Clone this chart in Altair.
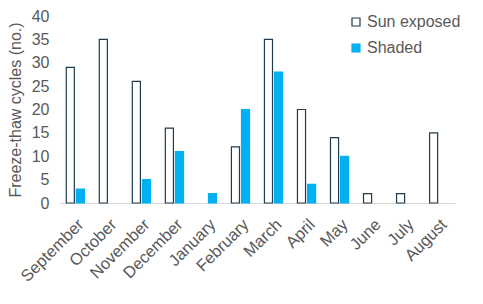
import altair as alt
import pandas as pd

months = ["September", "October", "November", "December", "January", "February",
          "March", "April", "May", "June", "July", "August"]
sun_exposed = [29, 35, 26, 16, 0, 12, 35, 20, 14, 2, 2, 15]
shaded = [3, 0, 5, 11, 2, 20, 28, 4, 10, 0, 0, 0]
series = ["Sun exposed", "Shaded"]

rows = []
for m, a, b in zip(months, sun_exposed, shaded):
    rows.append({"Month": m, "Series": series[0], "Value": a})
    rows.append({"Month": m, "Series": series[1], "Value": b})
df = pd.DataFrame(rows)

font = "Liberation Sans"
grey = "#595959"

chart = alt.Chart(df).transform_filter("datum.Value > 0").mark_bar(strokeWidth=1.2).encode(
    x=alt.X("Month:N", sort=months,
            scale=alt.Scale(domain=months, paddingInner=0.45, paddingOuter=0.22),
            axis=alt.Axis(title=None, labelAngle=-45, ticks=False,
                          domainColor="#d9d9d9", labelColor=grey,
                          labelFont=font, labelFontSize=16.5, labelPadding=13)),
    xOffset=alt.XOffset("Series:N", sort=series,
                        scale=alt.Scale(domain=series, paddingInner=0.2)),
    y=alt.Y("Value:Q", scale=alt.Scale(domain=[0, 40], nice=False),
            axis=alt.Axis(title="Freeze-thaw cycles (no.)", values=list(range(0, 41, 5)),
                          grid=False, domain=False, ticks=False,
                          labelColor=grey, labelFont=font, labelFontSize=16,
                          labelPadding=10, titleColor=grey, titleFont=font,
                          titleFontSize=16, titleFontWeight="normal", titlePadding=8)),
    fill=alt.Fill("Series:N", sort=series,
                  scale=alt.Scale(domain=series, range=["#ffffff", "#00b0f0"]),
                  legend=alt.Legend(title=None, orient="none", legendX=289, legendY=-2,
                                    labelFont=font, labelFontSize=16, labelColor=grey,
                                    symbolType="square", symbolSize=64,
                                    symbolStrokeWidth=1.2, rowPadding=10, labelOffset=3)),
    stroke=alt.Stroke("Series:N", sort=series,
                      scale=alt.Scale(domain=series, range=["#1f3b4d", "#00b0f0"]),
                      legend=None),
).properties(
    width=396, height=187,
    autosize=alt.AutoSizeParams(type="none"),
    padding={"left": 59, "top": 16, "right": 28, "bottom": 101},
).configure_view(stroke=None)

chart.save("out.html", embed_options={"renderer": "svg", "actions": False})
